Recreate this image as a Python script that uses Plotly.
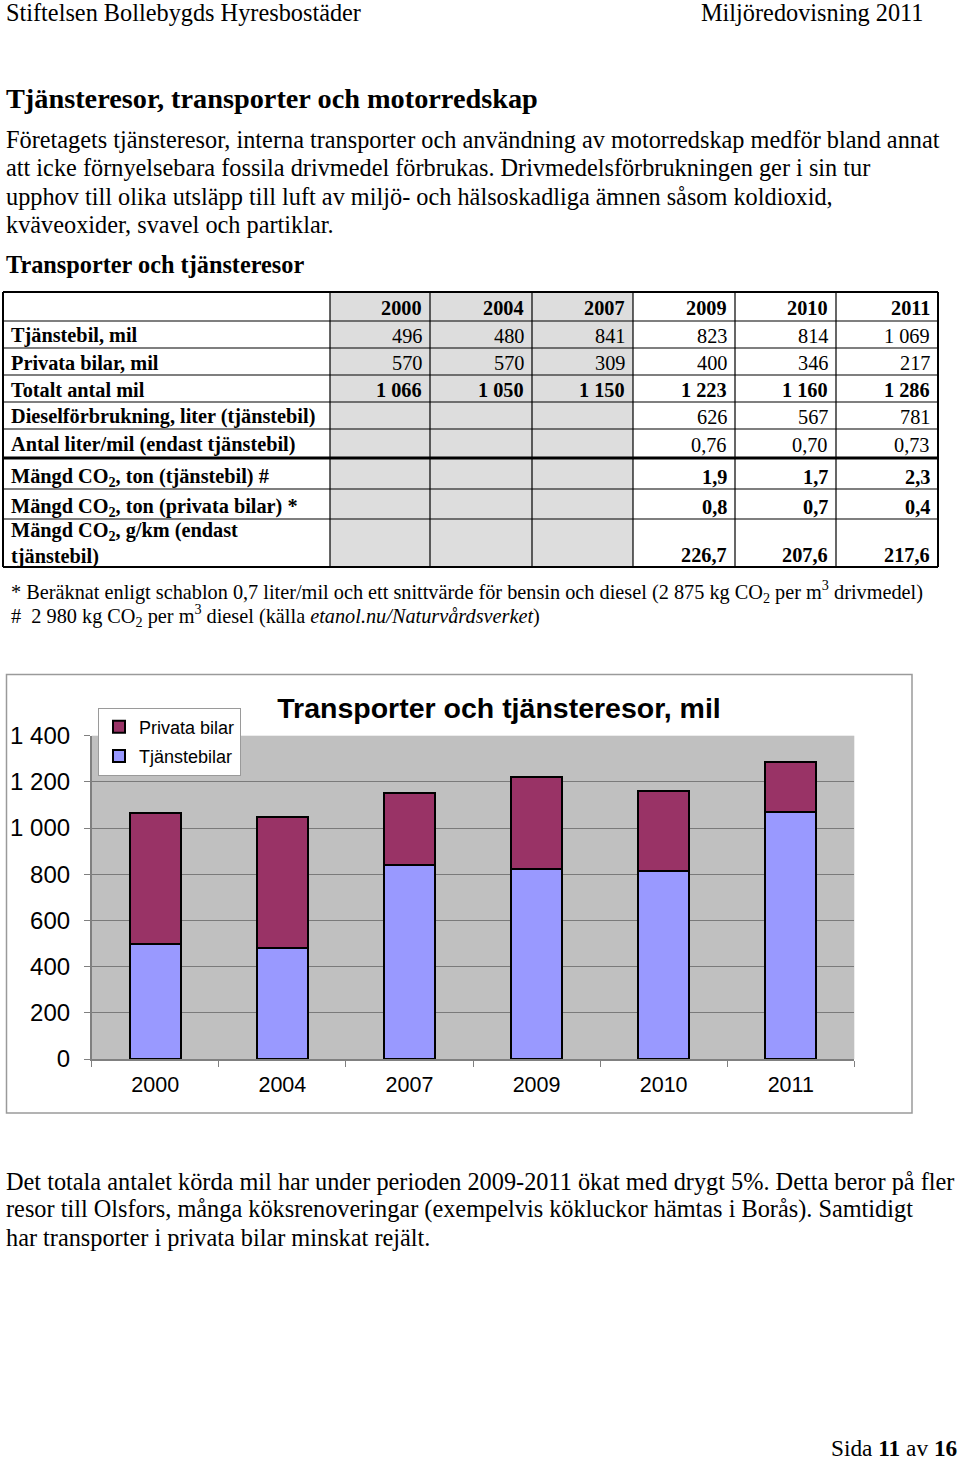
import plotly.graph_objects as go

# ---------------- data ----------------
years = ["2000", "2004", "2007", "2009", "2010", "2011"]
tjanstebil_mil = [496, 480, 841, 823, 814, 1069]
privata_mil = [570, 570, 309, 400, 346, 217]
totalt_mil = [1066, 1050, 1150, 1223, 1160, 1286]
diesel_liter = [None, None, None, 626, 567, 781]
liter_per_mil = [None, None, None, 0.76, 0.70, 0.73]
co2_tjanst_ton = [None, None, None, 1.9, 1.7, 2.3]
co2_privat_ton = [None, None, None, 0.8, 0.7, 0.4]
co2_g_per_km = [None, None, None, 226.7, 207.6, 217.6]

row_labels = [
    "Tjänstebil, mil",
    "Privata bilar, mil",
    "Totalt antal mil",
    "Dieselförbrukning, liter (tjänstebil)",
    "Antal liter/mil (endast tjänstebil)",
    "Mängd CO<sub>2</sub>, ton (tjänstebil) #",
    "Mängd CO<sub>2</sub>, ton (privata bilar) *",
    "Mängd CO<sub>2</sub>, g/km (endast<br>tjänstebil)",
]
series_names = ["Tjänstebilar", "Privata bilar"]
chart_title = "Transporter och tjänsteresor, mil"

header_left = "Stiftelsen Bollebygds Hyresbostäder"
header_right = "Miljöredovisning 2011"
section_title = "Tjänsteresor, transporter och motorredskap"
intro_lines = [
    "Företagets tjänsteresor, interna transporter och användning av motorredskap medför bland annat",
    "att icke förnyelsebara fossila drivmedel förbrukas. Drivmedelsförbrukningen ger i sin tur",
    "upphov till olika utsläpp till luft av miljö- och hälsoskadliga ämnen såsom koldioxid,",
    "kväveoxider, svavel och partiklar.",
]
table_title = "Transporter och tjänsteresor"
footnotes = [
    "* Beräknat enligt schablon 0,7 liter/mil och ett snittvärde för bensin och diesel (2 875 kg CO<sub>2</sub> per m<sup>3</sup> drivmedel)",
    "#  2 980 kg CO<sub>2</sub> per m<sup>3</sup> diesel (källa <i>etanol.nu/Naturvårdsverket</i>)",
]
outro_lines = [
    "Det totala antalet körda mil har under perioden 2009-2011 ökat med drygt 5%. Detta beror på fler",
    "resor till Olsfors, många köksrenoveringar (exempelvis kökluckor hämtas i Borås). Samtidigt",
    "har transporter i privata bilar minskat rejält.",
]
page_text = "Sida <b>11</b> av <b>16</b>"

# ---------------- helpers ----------------
W, H = 960, 1460
SERIF = "Liberation Serif"
SANS = "Liberation Sans"


def px(x):
    return x / W


def py(y):
    return 1 - y / H


def fmt_int(v):
    return f"{v:,}".replace(",", " ")


def fmt_dec(v, n):
    return f"{v:.{n}f}".replace(".", ",")


annotations = []
shapes = []


def text(x, y, s, size, family=SERIF, anchor="left", color="black"):
    annotations.append(dict(
        x=px(x), y=py(y), xref="paper", yref="paper", text=s, showarrow=False,
        xanchor=anchor, yanchor="middle", align=anchor if anchor != "center" else "center",
        font=dict(family=family, size=size, color=color),
    ))


# ---------------- page text ----------------
BODY = 24.3
text(4, 13, header_left, 24.3)
text(926, 13, header_right, 24.3, anchor="right")
text(4, 98, f"<b>{section_title}</b>", 28.3)
for i, line in enumerate(intro_lines):
    text(4, 140 + 28 * i, line, BODY)
text(4, 265, f"<b>{table_title}</b>", BODY)
text(9, 591, footnotes[0], 20.3)
text(9, 615, footnotes[1], 20.3)
for i, line in enumerate(outro_lines):
    text(4, 1181 + 28 * i, line, BODY)
text(959, 1448, page_text, 23.3, anchor="right")

# ---------------- table ----------------
col_x = [3, 330, 430, 532, 633, 735, 836, 938]
row_y = [292, 321, 348, 375, 402, 429, 458, 489, 519, 567]
gray_cols = 3
GRAY = "#dddddd"
TF = 20.3

for c in range(gray_cols):
    shapes.append(dict(type="rect", xref="paper", yref="paper",
                       x0=px(col_x[c + 1]), x1=px(col_x[c + 2]),
                       y0=py(row_y[0]), y1=py(row_y[-1]),
                       fillcolor=GRAY, line=dict(width=0), layer="below"))


def hline(y, x0, x1, w):
    shapes.append(dict(type="line", xref="paper", yref="paper",
                       x0=px(x0), x1=px(x1), y0=py(y), y1=py(y),
                       line=dict(color="black", width=w)))


def vline(x, y0, y1, w):
    shapes.append(dict(type="line", xref="paper", yref="paper",
                       x0=px(x), x1=px(x), y0=py(y0), y1=py(y1),
                       line=dict(color="black", width=w)))


for i, y in enumerate(row_y):
    w = 2 if i in (0, len(row_y) - 1) else (3 if i == 6 else 1.2)
    hline(y, col_x[0], col_x[-1], w)
for i, x in enumerate(col_x):
    w = 2 if i in (0, len(col_x) - 1) else 1.2
    vline(x, row_y[0], row_y[-1], w)

# header years
for c, yr in enumerate(years):
    text(col_x[c + 2] - 6, (row_y[0] + row_y[1]) / 2 + 1, f"<b>{yr}</b>", TF, anchor="right")

rows = [
    ([fmt_int(v) for v in tjanstebil_mil], False),
    ([fmt_int(v) for v in privata_mil], False),
    ([fmt_int(v) for v in totalt_mil], True),
    ([fmt_int(v) if v is not None else "" for v in diesel_liter], False),
    ([fmt_dec(v, 2) if v is not None else "" for v in liter_per_mil], False),
    ([fmt_dec(v, 1) if v is not None else "" for v in co2_tjanst_ton], True),
    ([fmt_dec(v, 1) if v is not None else "" for v in co2_privat_ton], True),
    ([fmt_dec(v, 1) if v is not None else "" for v in co2_g_per_km], True),
]
for r, (vals, bold) in enumerate(rows):
    top, bot = row_y[r + 1], row_y[r + 2]
    if r == 7:
        yv = bot - 12
        text(9, (top + bot) / 2, f"<b>{row_labels[r]}</b>", TF)
    elif r >= 5:
        yv = bot - 12
        text(9, yv, f"<b>{row_labels[r]}</b>", TF)
    else:
        yv = (top + bot) / 2 + 1
        text(9, yv, f"<b>{row_labels[r]}</b>", TF)
    for c, s in enumerate(vals):
        if s:
            text(col_x[c + 2] - 6, yv, f"<b>{s}</b>" if bold else s, TF, anchor="right")

# ---------------- chart ----------------
shapes.append(dict(type="rect", xref="paper", yref="paper",
                   x0=px(6.5), x1=px(912), y0=py(1113), y1=py(674.5),
                   line=dict(color="#9a9a9a", width=1.5), fillcolor="rgba(0,0,0,0)", layer="below"))

PA_X0, PA_X1 = 91.7, 854.3
PA_Y0, PA_Y1 = 735.7, 1059

fig = go.Figure()
fig.add_trace(go.Bar(
    x=years, y=tjanstebil_mil, name=series_names[0], legendgroup="a", legendrank=2,
    marker=dict(color="#9999FF", line=dict(color="black", width=2)),
))
fig.add_trace(go.Bar(
    x=years, y=privata_mil, name=series_names[1], legendgroup="b", legendrank=1,
    marker=dict(color="#993366", line=dict(color="black", width=2)),
))

fig.update_layout(
    width=W, height=H,
    autosize=False,
    margin=dict(l=0, r=0, t=0, b=0, pad=0, autoexpand=False),
    paper_bgcolor="white",
    plot_bgcolor="#c0c0c0",
    barmode="stack",
    bargap=0.6,
    separators=", ",
    showlegend=True,
    legend=dict(
        x=px(98), y=py(707.5), xanchor="left", yanchor="top",
        bgcolor="white", bordercolor="#9a9a9a", borderwidth=1,
        font=dict(family=SANS, size=18, color="black"),
        traceorder="grouped", tracegroupgap=3,
        itemwidth=30,
    ),
    title=dict(
        text=f"<b>{chart_title}</b>", x=px(499), xanchor="center",
        y=py(708), yanchor="middle", xref="paper", yref="paper",
        font=dict(family=SANS, size=28.5, color="black"),
    ),
    xaxis=dict(
        domain=[px(PA_X0), px(PA_X1)], type="category", automargin=False,
        showgrid=False, showline=True, linecolor="#808080", linewidth=1.5,
        ticks="outside", tickson="boundaries", ticklen=6, tickcolor="#808080",
        tickfont=dict(family=SANS, size=21.5, color="black"),
        ticklabelstandoff=5, mirror=False,
    ),
    yaxis=dict(
        domain=[py(PA_Y1), py(PA_Y0)], range=[0, 1400], automargin=False,
        tickvals=[0, 200, 400, 600, 800, 1000, 1200, 1400], tickformat=",d",
        showgrid=True, gridcolor="#7a7a7a", gridwidth=1,
        showline=True, linecolor="#808080", linewidth=1.5,
        ticks="outside", ticklen=6, tickcolor="#808080",
        tickfont=dict(family=SANS, size=24, color="black"),
        ticklabelstandoff=9, zeroline=False,
    ),
    annotations=annotations,
    shapes=shapes,
)

fig.write_html(
    "out.html",
    config={"displayModeBar": False},
    post_script="document.body.style.margin='0';document.body.style.padding='0';",
)
